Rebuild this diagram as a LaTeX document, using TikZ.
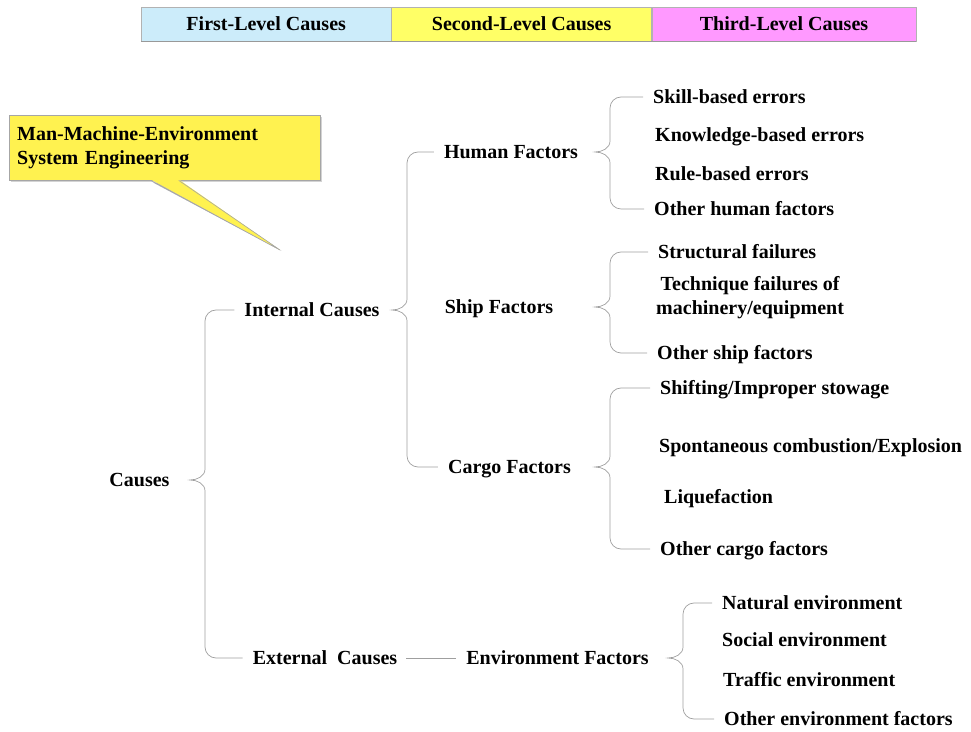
\documentclass[tikz,border=0pt]{standalone}
\usepackage{fontspec}
\setmainfont{Liberation Serif}
\usetikzlibrary{positioning,calc,shadows}

\definecolor{cellblue}{RGB}{204,236,250}
\definecolor{cellyellow}{RGB}{255,255,102}
\definecolor{cellpink}{RGB}{255,153,255}
\definecolor{notefill}{RGB}{255,242,80}

\begin{document}
\begin{tikzpicture}[x=1pt, y=1pt, node distance=0pt,
	lbl/.style = {font=\bfseries\fontsize{20}{24}\selectfont, inner sep=2pt},
	item/.style = {lbl, text height=14pt, text depth=1pt},
	cell/.style = {item, draw=gray!60, minimum height=34pt},
	curly/.style = {draw=gray!75, line width=0.7pt}]
	\useasboundingbox (0,0) rectangle (971,731);

	% header
	\node[cell, fill=cellblue, minimum width=250pt, anchor=north west] (lvl1) at (141,724) {First-Level Causes};
	\node[cell, fill=cellyellow, minimum width=260pt, right=of lvl1] (lvl2) {Second-Level Causes};
	\node[cell, fill=cellpink, minimum width=264pt, right=of lvl2] (lvl3) {Third-Level Causes};
	\draw[gray!80, line width=1.2pt] (lvl1.south west) -- (lvl3.south east);

	% callout
	\node[lbl, draw=gray!70, fill=notefill, anchor=north west, text width=295pt, inner xsep=8pt, minimum height=65pt, align=left,
		drop shadow={shadow xshift=2pt, shadow yshift=-2pt, opacity=0.35}] (note) at (9,616) {Man-Machine-Environment\\System Engineering};
	\coordinate (tip) at (280,481);
	\fill[gray!60] ([xshift=-12,yshift=-2]note.south) -- ([shift={(1.5,-1)}]tip) -- ([xshift=16,yshift=-2]note.south) -- cycle;
	\fill[notefill] ([xshift=-14,yshift=1]note.south) -- (tip) -- ([xshift=14,yshift=1]note.south) -- cycle;
	\draw[gray!70, line width=0.6pt] ([xshift=-14]note.south) -- (tip) -- ([xshift=14]note.south);

	% first and second level
	\node[item] (causes) at (139.5,251) {Causes};
	\node[item] (intc) at (312,421) {Internal Causes};
	\node[item] (extc) at (325,73) {External\ \ Causes};
	\node[item] (human) at (511,579) {Human Factors};
	\node[item] (ship) at (499,424) {Ship Factors};
	\node[item] (cargo) at (509.5,264) {Cargo Factors};
	\node[item] (env) at (557.5,73) {Environment Factors};

	% third level
	\node[item, anchor=west] (skill) at (651,634) {Skill-based errors};
	\node[item, anchor=west] (know) at (653,596) {Knowledge-based errors};
	\node[item, anchor=west] (rule) at (653,557) {Rule-based errors};
	\node[item, anchor=west] (othh) at (652,522) {Other human factors};
	\node[item, anchor=west] (struct) at (656,479) {Structural failures};
	\node[lbl, anchor=west, align=center] (techn) at (654,433) {Technique failures of\\machinery/equipment};
	\node[item, anchor=west] (oths) at (655,378) {Other ship factors};
	\node[item, anchor=west] (shift) at (658,343) {Shifting/Improper stowage};
	\node[item, anchor=west] (spont) at (657,285) {Spontaneous combustion/Explosion};
	\node[item, anchor=west] (liq) at (662,234) {Liquefaction};
	\node[item, anchor=west] (othc) at (658,182) {Other cargo factors};
	\node[item, anchor=west] (natural) at (720,128) {Natural environment};
	\node[item, anchor=west] (social) at (720,91) {Social environment};
	\node[item, anchor=west] (traffic) at (721,51) {Traffic environment};
	\node[item, anchor=west] (othe) at (722,12) {Other environment factors};

	% braces
	\foreach \pa/\tp/\bt/\vx in {causes/intc/extc/205, intc/human/cargo/407, human/skill/othh/610,
			ship/struct/oths/610, cargo/shift/othc/610, env/natural/othe/683}{
		\coordinate (v) at (\vx,0);
		\draw[curly] ([xshift=-8]\tp.west) -- ($(\tp.west -| v)+(11,0)$) to[out=180,in=90] ($(\tp.west -| v)+(0,-11)$)
			-- ($(\pa -| v)+(0,11)$) to[out=-90,in=0] ($(\pa -| v)+(-15,0)$)
			to[out=0,in=90] ($(\pa -| v)+(0,-11)$)
			-- ($(\bt.west -| v)+(0,11)$) to[out=-90,in=180] ($(\bt.west -| v)+(11,0)$) -- ([xshift=-8]\bt.west);
	}
	\draw[curly] ([xshift=7]extc.east) -- ([xshift=-8]env.west);
\end{tikzpicture}
\end{document}
